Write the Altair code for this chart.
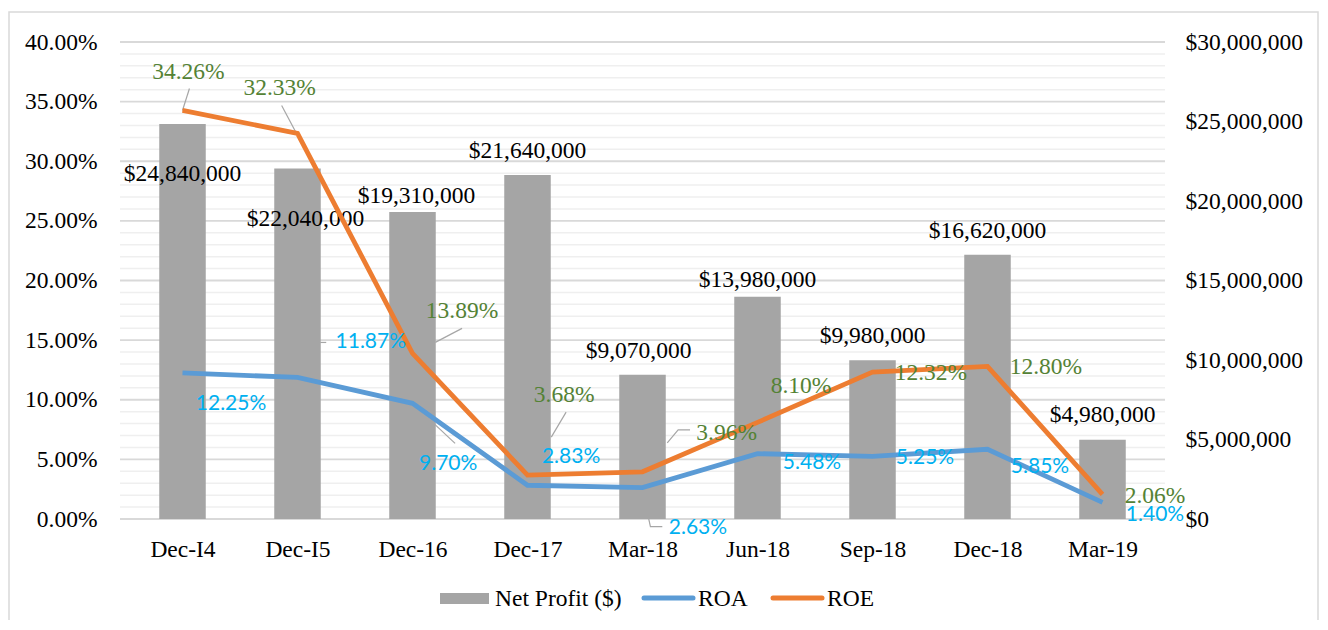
import altair as alt
import pandas as pd

# ---------------- data ----------------
periods = ["Dec-I4", "Dec-I5", "Dec-16", "Dec-17", "Mar-18", "Jun-18", "Sep-18", "Dec-18", "Mar-19"]
net_profit = [24840000, 22040000, 19310000, 21640000, 9070000, 13980000, 9980000, 16620000, 4980000]
roa = [12.25, 11.87, 9.70, 2.83, 2.63, 5.48, 5.25, 5.85, 1.40]
roe = [34.26, 32.33, 13.89, 3.68, 3.96, 8.10, 12.32, 12.80, 2.06]

pct_major = list(range(0, 41, 5))
pct_minor = [v for v in range(0, 41) if v % 5]
usd_ticks = list(range(0, 30000001, 5000000))

# ---------------- label placement (pixel offsets from the data point) ----------------
bar_lab_dx = [0, 8, 4, 0, -4, 0, 0, 0, 0]
bar_lab_dy = [50, 50, -16, -24, -24, -17, -24, -24, -25]
roe_lab_dx = [6, -18, 50, 37, 85, 44, 59, 59, 53]
roe_lab_dy = [-38, -45, -42, -80, -39, -36, 1, 1, 2]
roa_lab_dx = [49, 74, 36, 44, 56, 55, 53, 53, 53]
roa_lab_dy = [31, -35, 61, -28, 40, 9, 2, 18, 13]
# leader lines: (series, period index, list of pixel offsets)
leaders = [
    ("ROE", 0, [(0, 0), (7, -22)]),
    ("ROE", 1, [(-1, 0), (-16, -28)]),
    ("ROE", 2, [(23, -11), (50, -25)]),
    ("ROE", 3, [(24, -38), (39, -63)]),
    ("ROE", 4, [(25, -29), (36, -42), (48, -42)]),
    ("ROA", 1, [(23, -35), (29, -35)]),
    ("ROA", 2, [(2, 2), (43, 40)]),
    ("ROA", 4, [(6, 30), (8, 39), (20, 39)]),
]

SERIF = "Liberation Serif"
SANS = "Lato"
FS = 23.5
W, H = 1045, 477
N = len(periods)
PCT_MAX = 40
USD_MAX = 30000000

# ---------------- tables ----------------
idx = list(range(N))
df_bar = pd.DataFrame({
    "i": idx, "profit": net_profit,
    "plabel": [f"${v:,}" for v in net_profit],
    "dx": bar_lab_dx, "dy": bar_lab_dy,
})
df_roa = pd.DataFrame({"i": idx, "value": roa,
                       "lab": [f"{v:.2f}%" for v in roa], "dx": roa_lab_dx, "dy": roa_lab_dy})
df_roe = pd.DataFrame({"i": idx, "value": roe,
                       "lab": [f"{v:.2f}%" for v in roe], "dx": roe_lab_dx, "dy": roe_lab_dy})
rows = []
for k, (ser, i, pts) in enumerate(leaders):
    val = roe[i] if ser == "ROE" else roa[i]
    for j, (dx, dy) in enumerate(pts):
        rows.append({"lid": k, "ord": j, "i": i, "value": val, "dx": dx, "dy": dy})
df_lead = pd.DataFrame(rows)
df_major = pd.DataFrame({"v": pct_major})
df_minor = pd.DataFrame({"v": pct_minor})
one = pd.DataFrame({"a": [0]})

# pixel offset -> data units
XPX = f"{N}/{W}"
YPX_PCT = f"{PCT_MAX}/{H}"
YPX_USD = f"{USD_MAX}/{H}"

# ---------------- encodings ----------------
x_scale = alt.Scale(domain=[-0.5, N - 0.5], nice=False, zero=False)
label_expr = "[" + ",".join(f"'{p}'" for p in periods) + "][datum.value]"
x_axis = alt.Axis(title=None, values=idx, labelExpr=label_expr, ticks=False, domain=False, grid=False,
                  labelFont=SERIF, labelFontSize=FS, labelFontWeight="normal", labelColor="#000000",
                  labelPadding=18)


def X(field):
    return alt.X(field, scale=x_scale, axis=x_axis)


pct_scale = alt.Scale(domain=[0, PCT_MAX], nice=False, zero=True)
usd_scale = alt.Scale(domain=[0, USD_MAX], nice=False, zero=True)
pct_axis = alt.Axis(orient="left", values=pct_major, title=None, grid=False, ticks=False,
                    tickSize=0, domain=False, labelExpr="format(datum.value/100, '.2%')",
                    labelFont=SERIF, labelFontSize=FS, labelColor="#000000", labelPadding=23)
usd_axis = alt.Axis(orient="right", values=usd_ticks, format="$,.0f", title=None, grid=False,
                    ticks=False, tickSize=0, domain=False, labelFont=SERIF, labelFontSize=FS,
                    labelColor="#000000", labelPadding=20)

# ---------------- grid ----------------
minor = alt.Chart(df_minor).mark_rule(color="#efefef", strokeWidth=1.5).encode(
    y=alt.Y("v:Q", scale=pct_scale, axis=None), x=alt.value(0), x2=alt.value(W))
major = alt.Chart(df_major).mark_rule(color="#d9d9d9", strokeWidth=1.8).encode(
    y=alt.Y("v:Q", scale=pct_scale, axis=pct_axis), x=alt.value(0), x2=alt.value(W))

# ---------------- bars ----------------
bars = alt.Chart(df_bar).mark_bar(color="#a5a5a5", size=46.5).encode(
    x=X("i:Q"),
    y=alt.Y("profit:Q", scale=usd_scale, axis=usd_axis),
)
bar_text = alt.Chart(df_bar).transform_calculate(
    xp=f"datum.i + datum.dx*{XPX}", yp=f"datum.profit - datum.dy*{YPX_USD}"
).mark_text(font=SERIF, fontSize=FS, color="#000000", baseline="middle").encode(
    x=X("xp:Q"),
    y=alt.Y("yp:Q", scale=usd_scale, axis=None),
    text="plabel:N",
)

# ---------------- lines ----------------
lead = alt.Chart(df_lead).transform_calculate(
    xp=f"datum.i + datum.dx*{XPX}", yp=f"datum.value - datum.dy*{YPX_PCT}"
).mark_line(color="#a6a6a6", strokeWidth=1.2).encode(
    x=X("xp:Q"), y=alt.Y("yp:Q", scale=pct_scale, axis=None),
    detail="lid:N", order="ord:Q")
roa_line = alt.Chart(df_roa).mark_line(color="#5b9bd5", strokeWidth=4.8).encode(
    x=X("i:Q"), y=alt.Y("value:Q", scale=pct_scale, axis=None))
roe_line = alt.Chart(df_roe).mark_line(color="#ed7d31", strokeWidth=4.8).encode(
    x=X("i:Q"), y=alt.Y("value:Q", scale=pct_scale, axis=None))
roa_text = alt.Chart(df_roa).transform_calculate(
    xp=f"datum.i + datum.dx*{XPX}", yp=f"datum.value - datum.dy*{YPX_PCT}"
).mark_text(font=SANS, fontSize=21, color="#00b0f0", baseline="middle").encode(
    x=X("xp:Q"), y=alt.Y("yp:Q", scale=pct_scale, axis=None), text="lab:N")
roe_text = alt.Chart(df_roe).transform_calculate(
    xp=f"datum.i + datum.dx*{XPX}", yp=f"datum.value - datum.dy*{YPX_PCT}"
).mark_text(font=SERIF, fontSize=FS, color="#548235", baseline="middle").encode(
    x=X("xp:Q"), y=alt.Y("yp:Q", scale=pct_scale, axis=None), text="lab:N")

# ---------------- legend & frame ----------------
frame = alt.Chart(one).mark_rect(fillOpacity=0, stroke="#d9d9d9", strokeWidth=1.5).encode(
    x=alt.value(-111), x2=alt.value(1198), y=alt.value(-30), y2=alt.value(640))
leg_np = alt.Chart(one).mark_rect(color="#a5a5a5").encode(
    x=alt.value(320), x2=alt.value(369), y=alt.value(551), y2=alt.value(562))
leg_roa = alt.Chart(one).mark_rule(color="#5b9bd5", strokeWidth=5, strokeCap="round").encode(
    x=alt.value(524), x2=alt.value(573), y=alt.value(556))
leg_roe = alt.Chart(one).mark_rule(color="#ed7d31", strokeWidth=5, strokeCap="round").encode(
    x=alt.value(653), x2=alt.value(702), y=alt.value(556))
leg_t1 = alt.Chart(one).mark_text(font=SERIF, fontSize=FS, align="left", baseline="middle", color="#000000",
                                  text="Net Profit ($)").encode(x=alt.value(375), y=alt.value(557))
leg_t2 = alt.Chart(one).mark_text(font=SERIF, fontSize=FS, align="left", baseline="middle", color="#000000",
                                  text="ROA").encode(x=alt.value(578), y=alt.value(557))
leg_t3 = alt.Chart(one).mark_text(font=SERIF, fontSize=FS, align="left", baseline="middle", color="#000000",
                                  text="ROE").encode(x=alt.value(707), y=alt.value(557))

chart = alt.layer(
    minor, major, bars, bar_text, lead, roa_line, roe_line, roe_text, roa_text,
    frame, leg_np, leg_roa, leg_roe, leg_t1, leg_t2, leg_t3,
).resolve_scale(y="independent").properties(
    width=W, height=H,
    autosize=alt.AutoSizeParams(type="none"),
    padding={"left": 112, "top": 34, "right": 155, "bottom": 101},
    background="#ffffff",
).configure_view(stroke=None)

chart.save("out.html", embed_options={"renderer": "svg", "actions": False})
